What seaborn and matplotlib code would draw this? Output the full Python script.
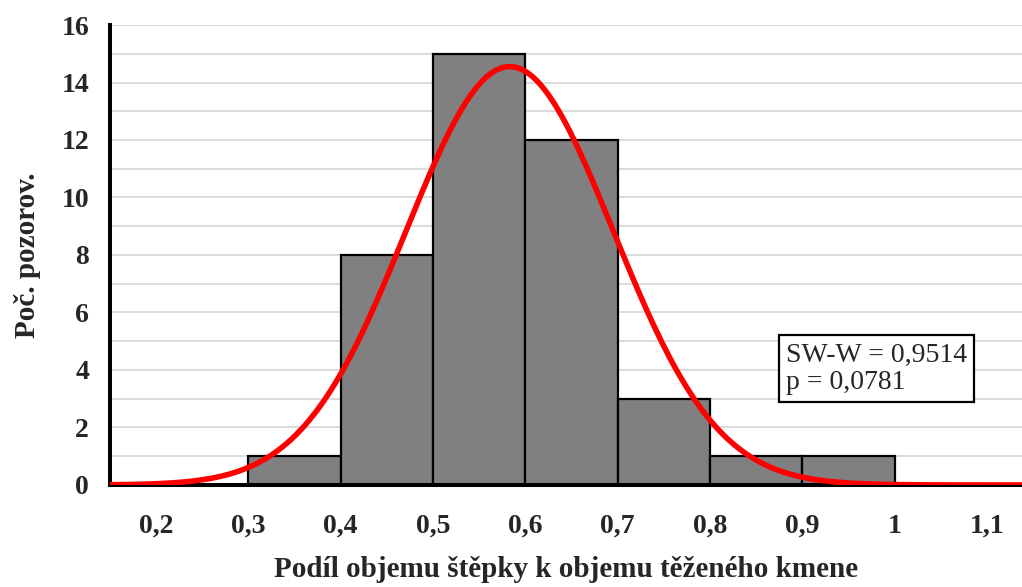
import numpy as np
import pandas as pd
import matplotlib
matplotlib.use("Agg")
import matplotlib.pyplot as plt
import seaborn as sns

# Data
bin_edges = [0.3, 0.4, 0.5, 0.6, 0.7, 0.8, 0.9, 1.0]
bin_centers = [0.35, 0.45, 0.55, 0.65, 0.75, 0.85, 0.95]
counts = [1, 8, 15, 12, 3, 1, 1]
fit_mean = 0.583
fit_sd = 0.1124
x_ticks = [0.2, 0.3, 0.4, 0.5, 0.6, 0.7, 0.8, 0.9, 1.0, 1.1]
x_tick_labels = ["0,2", "0,3", "0,4", "0,5", "0,6", "0,7", "0,8", "0,9", "1", "1,1"]
y_ticks = [0, 2, 4, 6, 8, 10, 12, 14, 16]
stats_text = "SW-W = 0,9514\np = 0,0781"

sns.set_style("white")
plt.rcParams['font.family'] = ['Liberation Serif', 'DejaVu Serif']

fig = plt.figure(figsize=(10.22, 5.87), dpi=100)
ax = fig.add_axes([0.1076, 0.1738, 0.8924, 0.7836])

df = pd.DataFrame({"x": bin_centers, "w": counts})
sns.histplot(data=df, x="x", weights="w", bins=bin_edges, stat="count",
             color="#808080", alpha=1.0, edgecolor="black", linewidth=1.6, ax=ax, zorder=2)

n = sum(counts)
bw = bin_edges[1] - bin_edges[0]
xs = np.linspace(0.15, 1.14, 400)
ys = n * bw / (fit_sd * np.sqrt(2 * np.pi)) * np.exp(-0.5 * ((xs - fit_mean) / fit_sd) ** 2)
sns.lineplot(x=xs, y=ys, color="#ff0000", linewidth=4.0, ax=ax, zorder=3)

ax.set_xlim(0.15, 1.138)
ax.set_ylim(0, 16)
ax.set_yticks(range(1, 17), minor=True)
ax.grid(False)
ax.yaxis.grid(True, which="minor", color="#d9d9d9", linewidth=1.3, zorder=0)
ax.yaxis.grid(True, which="major", color="#d9d9d9", linewidth=1.3, zorder=0)
ax.set_axisbelow(True)
ax.tick_params(axis="y", which="minor", length=0)

ax.set_xticks(x_ticks)
ax.set_xticklabels(x_tick_labels)
ax.set_yticks(y_ticks)
ax.tick_params(axis="both", which="major", direction="out", length=9, width=2.8,
               labelsize=20, color="black")
ax.tick_params(axis="x", pad=12)
ax.tick_params(axis="y", pad=6)
for lab in ax.get_xticklabels() + ax.get_yticklabels():
    lab.set_fontweight("bold")

for side in ["top", "right"]:
    ax.spines[side].set_visible(False)
for side in ["left", "bottom"]:
    ax.spines[side].set_linewidth(2.9)
    ax.spines[side].set_color("black")

ax.set_xlabel("Podíl objemu štěpky k objemu těženého kmene", fontsize=21,
              fontweight="bold", labelpad=12)
ax.set_ylabel("Poč. pozorov.", fontsize=21, fontweight="bold", labelpad=15)

ax.text(0.741, 0.195, stats_text, transform=ax.transAxes, fontsize=20,
        va="bottom", ha="left", linespacing=1.15,
        bbox=dict(boxstyle="square,pad=0.25", facecolor="white", edgecolor="black", linewidth=1.6),
        zorder=5)

fig.savefig("out.png", dpi=100)
